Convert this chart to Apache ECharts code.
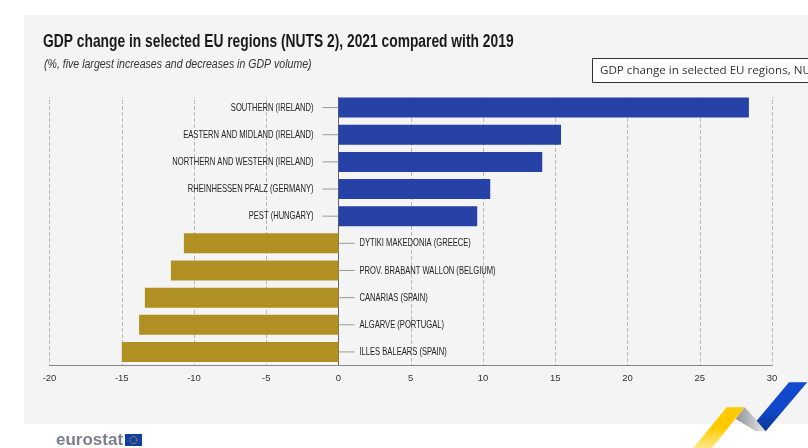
<!DOCTYPE html>
<html>
<head>
<meta charset="utf-8">
<style>html,body{margin:0;padding:0;background:#fff}#chart{width:808px;height:448px}</style>
<script src="https://cdn.jsdelivr.net/npm/echarts@6/dist/echarts.min.js"></script>
</head>
<body>
<div id="chart"></div>
<script>
// data, top to bottom
var regions = ['SOUTHERN (IRELAND)', 'EASTERN AND MIDLAND (IRELAND)', 'NORTHERN AND WESTERN (IRELAND)', 'RHEINHESSEN PFALZ (GERMANY)', 'PEST (HUNGARY)',
    'DYTIKI MAKEDONIA (GREECE)', 'PROV. BRABANT WALLON (BELGIUM)', 'CANARIAS (SPAIN)', 'ALGARVE (PORTUGAL)', 'ILLES BALEARS (SPAIN)'];
var gdpChange = [28.4, 15.4, 14.1, 10.5, 9.6, -10.7, -11.6, -13.4, -13.8, -15.0];

var font = '"Liberation Sans", sans-serif';
var blue = '#2642a6', gold = '#b09022';
var panel = '#f4f4f4';

var myChart = echarts.init(document.getElementById('chart'));

// no condensed font here, so the text is squeezed horizontally
function squeezedText(text, x, y, scaleX, css, color) {
    return { type: 'text', x: x, y: y, scaleX: scaleX, z: 10, style: { text: text, fill: color, font: css } };
}

// region label and tick on the side of the zero line away from the bar
function renderRegion(params, api) {
    var p = api.coord([0, api.value(1)]);
    var dir = api.value(2) > 0 ? -1 : 1;
    return {
        type: 'group',
        children: [{
            type: 'line',
            shape: { x1: p[0], y1: p[1], x2: p[0] + dir * 16, y2: p[1] },
            style: { stroke: '#999', lineWidth: 1 }
        }, {
            type: 'text',
            x: p[0] + (dir < 0 ? -25 : 21),
            y: p[1],
            scaleX: 0.69,
            style: {
                text: regions[params.dataIndex],
                fill: '#222',
                font: '11px ' + font,
                align: dir < 0 ? 'right' : 'left',
                verticalAlign: 'middle'
            }
        }]
    };
}

var option = {
    animation: false,
    backgroundColor: '#fff',
    grid: { left: 49.5, right: 36, top: 94, bottom: 82.5, outerBoundsMode: 'none' },
    xAxis: {
        type: 'value',
        min: -20, max: 30, interval: 5,
        axisLine: { show: true, onZero: false, lineStyle: { color: '#888' } },
        axisTick: { show: false },
        axisLabel: { color: '#333', fontFamily: font, fontSize: 9.5, margin: 8 },
        splitLine: { lineStyle: { type: 'dashed', color: '#bbb', width: 1 } }
    },
    yAxis: {
        type: 'category',
        data: regions,
        inverse: true,
        axisLine: { onZero: true, lineStyle: { color: '#666', width: 1 } },
        axisTick: { show: false },
        axisLabel: { show: false }
    },
    series: [{
        type: 'bar',
        barWidth: 20,
        data: gdpChange.map(function (v) {
            return { value: v, itemStyle: { color: v > 0 ? blue : gold } };
        })
    }, {
        type: 'custom',
        renderItem: renderRegion,
        clip: false,
        encode: { x: 0, y: 1 },
        data: gdpChange.map(function (v, i) { return [0, i, v]; })
    }],
    graphic: [
        { type: 'rect', z: -10, shape: { x: 24, y: 15, width: 784, height: 409 }, style: { fill: panel } },
        // gridlines start a little below the first band
        { type: 'rect', z: 5, shape: { x: 40, y: 92, width: 740, height: 5 }, style: { fill: panel } },
        squeezedText('GDP change in selected EU regions (NUTS 2), 2021 compared with 2019', 43, 32, 0.727, 'bold 19px ' + font, '#1a1a1a'),
        squeezedText('(%, five largest increases and decreases in GDP volume)', 44, 59, 0.88, 'italic 12px ' + font, '#333'),
        // box cut off by the page edge
        { type: 'rect', z: 9, shape: { x: 592.5, y: 58.5, width: 220, height: 24 }, style: { fill: '#fff', stroke: '#333', lineWidth: 1 } },
        { type: 'text', z: 10, x: 600, y: 65, style: { text: 'GDP change in selected EU regions, NU', fill: '#333', font: '11.6px "Open Sans"' } },
        // eurostat logo
        { type: 'text', x: 56, y: 432, style: { text: 'eurostat', fill: '#7b7f8c', font: 'bold 17px "Liberation Sans"' } },
        { type: 'rect', shape: { x: 125, y: 434, width: 17, height: 12 }, style: { fill: '#1240a0' } },
        { type: 'circle', shape: { cx: 133.5, cy: 440, r: 3.5 }, style: { fill: 'none', stroke: '#d8b820', lineWidth: 1, lineDash: [1, 1] } },
        // ribbon
        { type: 'polygon', shape: { points: [[735.7, 419], [744.7, 407.3], [766.7, 431.3], [756, 431.3]] },
          style: { fill: new echarts.graphic.LinearGradient(0, 0, 1, 0, [{ offset: 0, color: '#8f9197' }, { offset: 1, color: '#ebebeb' }]) } },
        { type: 'polygon', shape: { points: [[726.7, 407.3], [744.7, 407.3], [712, 448], [693.3, 448]] },
          style: { fill: new echarts.graphic.LinearGradient(0, 0, 0, 1, [{ offset: 0, color: '#ffcb00' }, { offset: 0.5, color: '#ffcb00' }, { offset: 1, color: '#ffe88a' }]) } },
        { type: 'polygon', shape: { points: [[789, 382.3], [807.3, 382.3], [765.7, 431.3], [756.7, 420.7]] },
          style: { fill: new echarts.graphic.LinearGradient(0, 0, 0, 1, [{ offset: 0, color: '#0f4ad0' }, { offset: 0.6, color: '#0f47c6' }, { offset: 1, color: '#0a3490' }]) } }
    ]
};

myChart.setOption(option);
</script>
</body>
</html>
